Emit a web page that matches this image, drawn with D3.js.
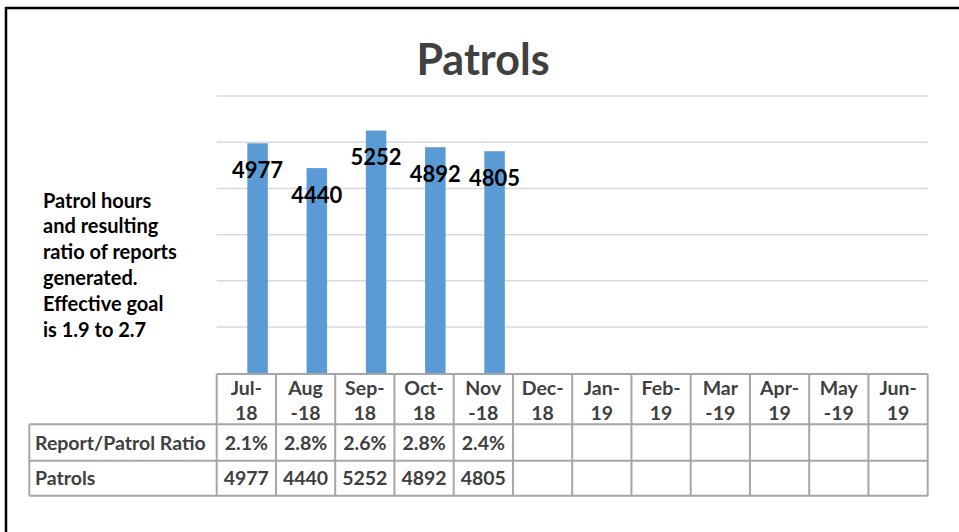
<!DOCTYPE html>
<html lang="en">
<head>
  <meta charset="UTF-8"/>
  <title>Patrols</title>
  <script src="https://d3js.org/d3.v7.min.js"></script>
  <style>
    body { margin:0; background:#fff; }
    svg { display:block; font-family:Lato,"Open Sans",sans-serif; }
  </style>
</head>
<body>
  <svg width="959" height="532"></svg>

  <script>
    // data
    const months   = ['Jul-18','Aug-18','Sep-18','Oct-18','Nov-18','Dec-18','Jan-19','Feb-19','Mar-19','Apr-19','May-19','Jun-19'];
    const monthTop = ['Jul-','Aug','Sep-','Oct-','Nov','Dec-','Jan-','Feb-','Mar','Apr-','May','Jun-'];
    const monthBot = ['18','-18','18','18','-18','18','19','19','-19','19','-19','19'];
    const patrols  = [4977, 4440, 5252, 4892, 4805, null, null, null, null, null, null, null];
    const ratio    = ['2.1%','2.8%','2.6%','2.8%','2.4%','','','','','','',''];
    const series   = ['Report/Patrol Ratio','Patrols'];
    const yTicks   = [1000,2000,3000,4000,5000,6000];
    const note     = ['Patrol hours','and resulting','ratio of reports','generated.','Effective goal','is 1.9 to 2.7'];

    const svg = d3.select('svg');
    const plotL = 216.7, plotR = 927.7, plotT = 96, plotB = 373.3;
    const ink = '#404040', gridC = '#d9d9d9', tblC = '#a6a6a6';

    // frame (top + left only)
    svg.append('path')
      .attr('d','M6,532 L6,8 L959,8')
      .attr('fill','none').attr('stroke','#000').attr('stroke-width',2.5);

    const x = d3.scaleBand().domain(months).range([plotL,plotR]).padding(0);
    const x1 = d3.scaleBand().domain(series).range([0,x.bandwidth()]).paddingOuter(0.445);
    const y = d3.scaleLinear().domain([0,6000]).range([plotB,plotT]);

    // title
    svg.append('text')
      .attr('x',483).attr('y',75)
      .attr('text-anchor','middle')
      .attr('font-size',43).attr('font-weight','bold')
      .attr('fill',ink).text('Patrols');

    // gridlines
    svg.append('g').selectAll('line').data(yTicks).join('line')
      .attr('x1',plotL).attr('x2',plotR)
      .attr('y1',d=>y(d)).attr('y2',d=>y(d))
      .attr('stroke',gridC).attr('stroke-width',1.5);

    // bars
    const pts = months.map((m,i)=>({m, v:patrols[i]})).filter(d=>d.v!=null);
    svg.append('g').selectAll('rect').data(pts).join('rect')
      .attr('x',d=>x(d.m)+x1('Patrols')+1)
      .attr('y',d=>y(d.v))
      .attr('width',x1.bandwidth())
      .attr('height',d=>plotB-y(d.v))
      .attr('fill','#5b9bd5');

    svg.append('g').selectAll('text').data(pts).join('text')
      .attr('x',d=>x(d.m)+x1('Patrols')+1+x1.bandwidth()/2)
      .attr('y',d=>y(d.v)+34.5)
      .attr('text-anchor','middle')
      .attr('font-size',22).attr('font-weight','bold')
      .attr('fill','#000').text(d=>d.v);

    // side note
    svg.append('g').selectAll('text').data(note).join('text')
      .attr('x',43).attr('y',(d,i)=>207.5+i*25.8)
      .attr('font-size',20).attr('font-weight','bold')
      .attr('fill','#000').text(d=>d);

    // data table
    const rows = [374, 424.3, 460.7, 495.7];
    const tbl = svg.append('g');
    tbl.append('line').attr('x1',plotL).attr('x2',plotR).attr('y1',rows[0]).attr('y2',rows[0]);
    rows.slice(1).forEach(r=>{
      tbl.append('line').attr('x1',29.3).attr('x2',plotR).attr('y1',r).attr('y2',r);
    });
    months.forEach(m=>{
      tbl.append('line').attr('x1',x(m)).attr('x2',x(m)).attr('y1',rows[0]).attr('y2',rows[3]);
    });
    tbl.append('line').attr('x1',plotR).attr('x2',plotR).attr('y1',rows[0]).attr('y2',rows[3]);
    tbl.append('line').attr('x1',29.3).attr('x2',29.3).attr('y1',rows[1]).attr('y2',rows[3]);
    tbl.selectAll('line').attr('stroke',tblC).attr('stroke-width',2);

    const tt = svg.append('g').attr('fill',ink).attr('font-size',19.5).attr('font-weight','bold')
      .attr('text-anchor','middle');
    months.forEach((m,i)=>{
      const cx = x(m)+x.bandwidth()/2;
      tt.append('text').attr('x',cx).attr('y',395).text(monthTop[i]);
      tt.append('text').attr('x',cx).attr('y',419.5).text(monthBot[i]);
      tt.append('text').attr('x',cx).attr('y',449.5).text(ratio[i]);
      tt.append('text').attr('x',cx).attr('y',485).text(patrols[i]==null?'':patrols[i]);
    });
    tt.append('text').attr('x',35).attr('y',449.5).attr('text-anchor','start').text(series[0]);
    tt.append('text').attr('x',35).attr('y',485).attr('text-anchor','start').text(series[1]);
  </script>
</body>
</html>
